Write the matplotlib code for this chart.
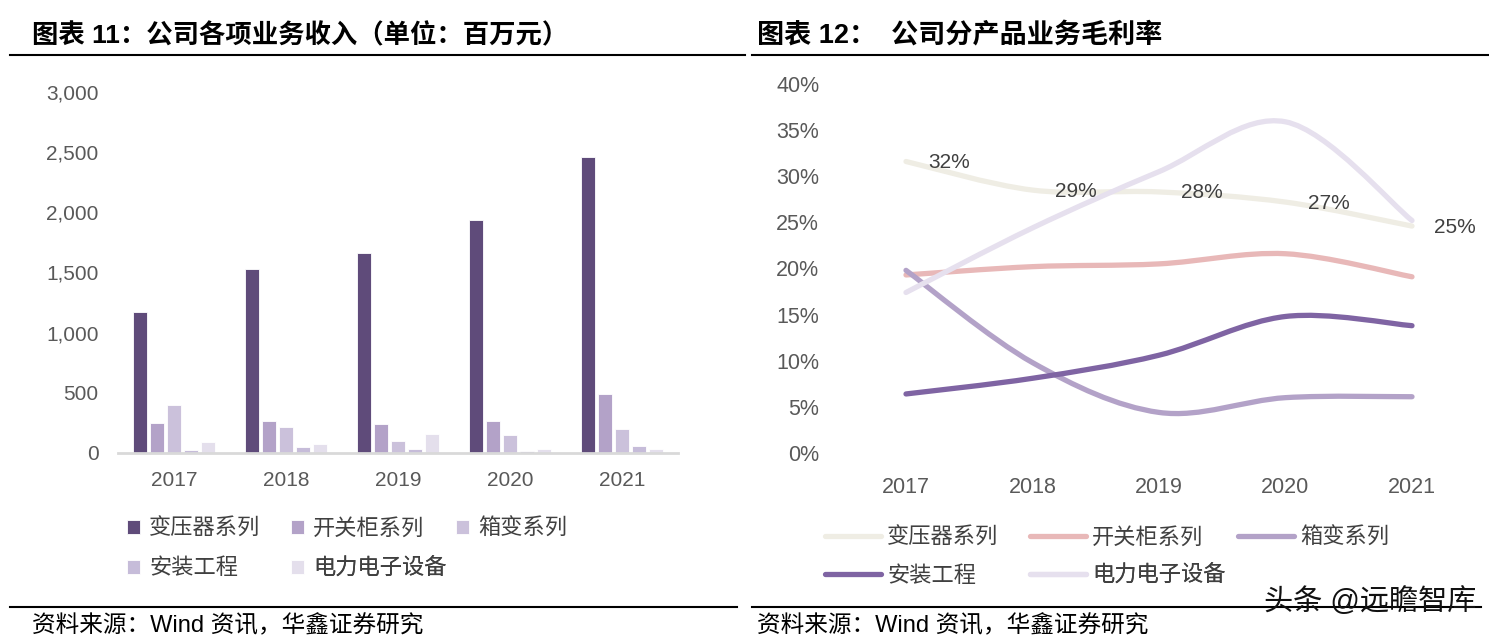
import numpy as np
import matplotlib
matplotlib.use("Agg")
import matplotlib.pyplot as plt
from matplotlib.path import Path
from matplotlib.patches import PathPatch
from matplotlib.lines import Line2D
from matplotlib.ticker import FuncFormatter

plt.rcParams['font.family'] = ['Liberation Sans', 'Noto Sans CJK SC', 'DejaVu Sans']

# 数据
years = ['2017', '2018', '2019', '2020', '2021']
series = ['变压器系列', '开关柜系列', '箱变系列', '安装工程', '电力电子设备']

rev_transformer = [1172, 1530, 1662, 1937, 2460]
rev_switch = [252, 268, 238, 265, 493]
rev_box = [399, 219, 102, 147, 199]
rev_install = [27, 47, 33, 15, 56]
rev_power = [94, 72, 160, 33, 36]

gm_transformer = [31.6, 28.5, 28.3, 27.2, 24.6]
gm_switch = [19.3, 20.2, 20.5, 21.6, 19.1]
gm_box = [19.8, 9.8, 4.4, 6.0, 6.1]
gm_install = [6.4, 8.1, 10.6, 14.8, 13.8]
gm_power = [17.4, 24.4, 30.5, 35.9, 25.2]
gm_labels = ['32%', '29%', '28%', '27%', '25%']

bar_colors = ['#5f4b7a', '#b3a2c8', '#cbc1db', '#c6bcd9', '#e4dfec']
line_colors = ['#efede4', '#e8b8b8', '#b3a2c8', '#7f64a3', '#e6e0ee']

fig = plt.figure(figsize=(14.89, 6.43), dpi=100)
W, H = 1489, 643


def fx(px):
    return px / W


def fy(py):
    return 1 - py / H


# 标题与分隔线
fig.text(fx(32), fy(36), '图表 11：公司各项业务收入（单位：百万元）', fontsize=19,
         fontweight='bold', va='center', ha='left', color='black')
fig.text(fx(757), fy(36), '图表 12：  公司分产品业务毛利率', fontsize=19.5,
         fontweight='bold', va='center', ha='left', color='black')
for x0, x1 in [(10, 745), (752, 1489)]:
    fig.add_artist(Line2D([fx(x0), fx(x1)], [fy(55), fy(55)], color='black', lw=1.5))
    fig.add_artist(Line2D([fx(x0), fx(x1 - 8)], [fy(607), fy(607)], color='black', lw=1.5))
fig.text(fx(32), fy(626), '资料来源：Wind 资讯，华鑫证券研究', fontsize=17, va='center', ha='left')
fig.text(fx(757), fy(626), '资料来源：Wind 资讯，华鑫证券研究', fontsize=17, va='center', ha='left')
fig.text(fx(1476), fy(602), '头条 @远瞻智库', fontsize=21, va='center', ha='right', color='#111111')

legend_font = {'family': ['Noto Sans CJK SC'], 'size': 16}


def legend_entry(ax, handle, label, px, py, hl, tp):
    # 每个图例项单独放置，位置为像素坐标（标记左边缘, 行中心）
    lg = ax.legend([handle], [label], loc='center left', bbox_to_anchor=(fx(px), fy(py)),
                   bbox_transform=fig.transFigure, frameon=False, borderpad=0, borderaxespad=0,
                   handlelength=hl, handleheight=0.6, handletextpad=tp, prop=legend_font,
                   labelcolor='#404040')
    ax.add_artist(lg)


# 左图：柱状图
ax1 = fig.add_axes([fx(118), fy(453), fx(560), 361 / H])
rev = [rev_transformer, rev_switch, rev_box, rev_install, rev_power]
x = np.arange(len(years))
step = 0.152
handles = []
for i, (vals, c) in enumerate(zip(rev, bar_colors)):
    b = ax1.bar(x + (i - 2) * step, vals, width=0.125, color=c, edgecolor='white', linewidth=0.6, label=series[i])
    handles.append(b)
ax1.set_xlim(-0.5, 4.5)
ax1.set_ylim(0, 3000)
ax1.set_yticks(range(0, 3001, 500))
ax1.yaxis.set_major_formatter(FuncFormatter(lambda v, p: f'{int(v):,}'))
ax1.set_xticks(x)
ax1.set_xticklabels(years)
for s in ['top', 'right', 'left']:
    ax1.spines[s].set_visible(False)
ax1.spines['bottom'].set_color('#d9d9d9')
ax1.spines['bottom'].set_linewidth(2)
ax1.tick_params(axis='both', length=0, labelsize=15, labelcolor='#595959')
ax1.tick_params(axis='y', pad=14)
ax1.tick_params(axis='x', pad=13)
left_pos = [(127, 528), (291, 528), (456, 528), (127, 568), (291, 568)]
for h, lab, (px, py) in zip(handles, series, left_pos):
    legend_entry(ax1, h, lab, px, py, 0.6, 0.4)


# 右图：平滑折线
def smooth_path(xs, ys):
    pts = np.column_stack([xs, ys]).astype(float)
    verts = [pts[0]]
    codes = [Path.MOVETO]
    n = len(pts)
    for k in range(n - 1):
        p0 = pts[k - 1] if k > 0 else pts[k]
        p1 = pts[k]
        p2 = pts[k + 1]
        p3 = pts[k + 2] if k + 2 < n else pts[k + 1]
        c1 = p1 + (p2 - p0) / 6
        c2 = p2 - (p3 - p1) / 6
        verts += [c1, c2, p2]
        codes += [Path.CURVE4] * 3
    return Path(verts, codes)


ax2 = fig.add_axes([fx(842.75), fy(453), fx(632.5), 369 / H])
gm = [gm_transformer, gm_switch, gm_box, gm_install, gm_power]
lhandles = []
for i, (vals, c) in enumerate(zip(gm, line_colors)):
    patch = PathPatch(smooth_path(x, vals), facecolor='none', edgecolor=c, lw=3.8,
                      capstyle='round', joinstyle='round', zorder=2 + i)
    ax2.add_patch(patch)
    lhandles.append(Line2D([], [], color=c, lw=3.8, solid_capstyle='round'))
for xi, yi, lab in zip(x, gm_transformer, gm_labels):
    ax2.annotate(lab, (xi, yi), xytext=(43, -1), textcoords='offset pixels',
                 ha='center', va='center', fontsize=15, color='#404040', zorder=10)
ax2.set_xlim(-0.5, 4.5)
ax2.set_ylim(0, 40)
ax2.set_yticks(range(0, 41, 5))
ax2.yaxis.set_major_formatter(FuncFormatter(lambda v, p: f'{int(v)}%'))
ax2.set_xticks(x)
ax2.set_xticklabels(years)
for s in ['top', 'right', 'left', 'bottom']:
    ax2.spines[s].set_visible(False)
ax2.tick_params(axis='both', length=0, labelsize=15.5, labelcolor='#595959')
ax2.tick_params(axis='y', pad=17)
ax2.tick_params(axis='x', pad=17)
right_pos = [(825, 537), (1030, 537), (1238, 537), (825, 575), (1030, 575)]
for h, lab, (px, py) in zip(lhandles, series, right_pos):
    legend_entry(ax2, h, lab, px, py, 2.5, 0.3)

fig.savefig('out.png', dpi=100)
